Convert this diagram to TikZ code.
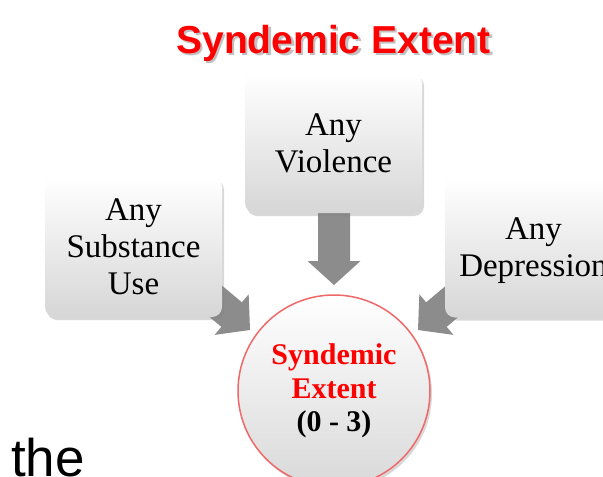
\documentclass[tikz,border=0pt]{standalone}
\usepackage{fontspec}
\setmainfont{Liberation Serif}
\newfontfamily\arialfont{Liberation Sans}
\usetikzlibrary{shadows,calc}
\definecolor{titlered}{RGB}{255,0,0}
\definecolor{ringred}{RGB}{240,105,105}
\definecolor{arrowgray}{RGB}{140,140,140}
\begin{document}
\begin{tikzpicture}[x=1pt,y=-1pt,
  box/.style={rounded corners=10pt, minimum width=177pt, minimum height=140pt,
    top color=white, bottom color=black!16,
    drop shadow={opacity=0.3,shadow xshift=2pt,shadow yshift=-3pt},
    align=center, inner sep=0pt, font=\fontsize{33}{37}\selectfont},
  result/.style={circle, minimum size=192pt, inner sep=0pt, draw=ringred, line width=1.5pt,
    top color=white, bottom color=black!15,
    drop shadow={opacity=0.3,shadow xshift=2pt,shadow yshift=-3pt},
    align=center, font=\bfseries\fontsize{30}{33.5}\selectfont},
  titletext/.style={anchor=base, inner sep=0pt, font=\arialfont\bfseries\fontsize{39}{44}\selectfont},
  pics/fatarrow/.style={code={\fill[arrowgray] (0,0) -- (-24,26.5) -- (-24,16) -- (-#1,16)
      -- (-#1,-16) -- (-24,-16) -- (-24,-26.5) -- cycle;}}]
\useasboundingbox (0,0) rectangle (603,477);
\clip (0,0) rectangle (603,477);
\fill[white] (0,0) rectangle (603,477);

% title
\node[titletext, text=black!40, opacity=0.6] (titleshadow) at (336,55.5) {Syndemic Extent};
\node[titletext, text=titlered] (title) at (333.5,53) {Syndemic Extent};

% result circle
\node[result] (res) at (334,391) {\textcolor{titlered}{Syndemic}\\\textcolor{titlered}{Extent}\\(0 - 3)};

% arrow tips
\coordinate (tipV) at ($(res.center)+(0,-106)$);
\coordinate (tipL) at ($(res.center)+(-84,-61)$);
\coordinate (tipR) at ($(res.center)+(84,-61)$);

% arrows (behind the boxes)
\pic[rotate=-90] at (tipV) {fatarrow=85};
\pic[rotate=-40] at (tipL) {fatarrow=80};
\pic[rotate=-140] at (tipR) {fatarrow=80};

% boxes
\node[box] (viol) at (333.5,143) {Any\\Violence};
\node[box] (subst) at (133.5,247) {Any\\Substance\\Use};
\node[box] (depr) at (533.5,247.5) {Any\\\smash{Depression}};

% stray text
\node[anchor=base west, inner sep=0pt, font=\arialfont\fontsize{53}{60}\selectfont] (the) at (11,476) {the};
\end{tikzpicture}
\end{document}
